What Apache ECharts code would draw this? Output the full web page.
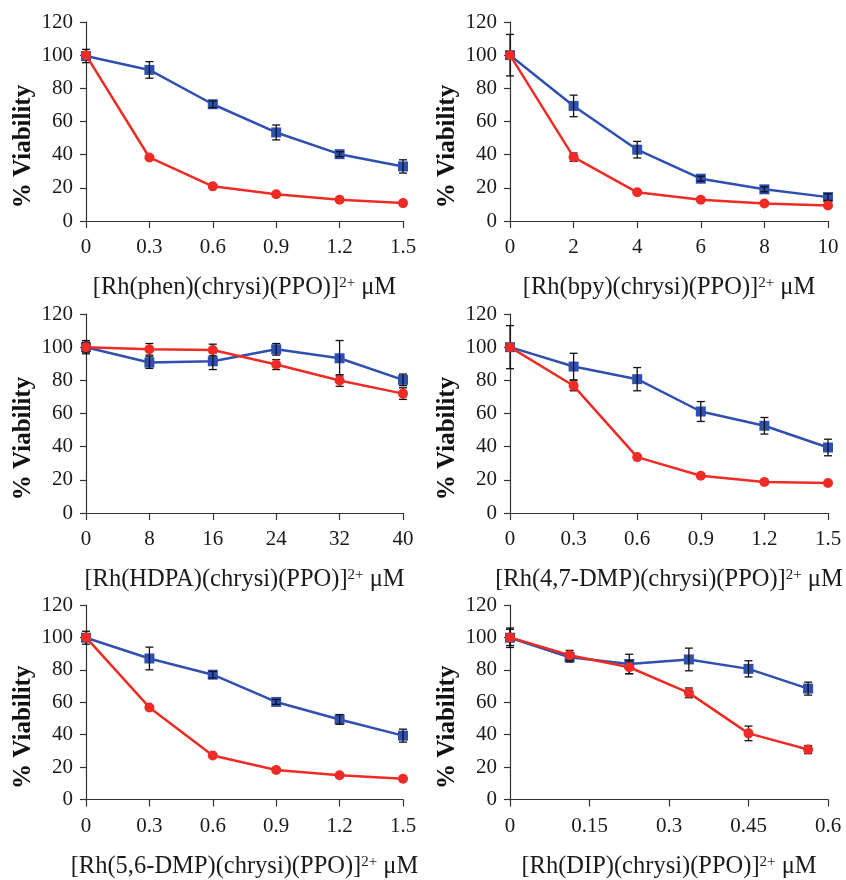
<!DOCTYPE html>
<html>
<head>
<meta charset="utf-8">
<script src="https://cdn.jsdelivr.net/npm/echarts@6/dist/echarts.min.js"></script>
<style>
html,body{margin:0;padding:0;background:#fff;}
#chart{width:846px;height:880px;}
</style>
</head>
<body>
<div id="chart"></div>
<script>
// ---- data ----
const xs1 = [0, 0.3, 0.6, 0.9, 1.2, 1.5];
const blue1 = [99.5, 91.1, 70.4, 53.4, 40.3, 32.9];
const blueErr1 = [4, 5, 2, 4.5, 1.5, 4];
const red1 = [100, 38.3, 20.9, 16.1, 12.8, 10.8];
const redErr1 = [1, 1, 1, 1, 1, 1];

const xs2 = [0, 2, 4, 6, 8, 10];
const blue2 = [100, 69.4, 43, 25.5, 19.1, 14.4];
const blueErr2 = [12.5, 6.5, 5, 1.5, 1.5, 2];
const red2 = [100, 38.5, 17.3, 12.8, 10.6, 9.4];
const redErr2 = [2, 2.5, 1, 1, 1, 1];

const xs3 = [0, 8, 16, 24, 32, 40];
const blue3 = [100, 90.7, 91.5, 98.7, 93.3, 80.3];
const blueErr3 = [4, 3.5, 5, 3.5, 10.7, 3.5];
const red3 = [100, 98.7, 98.3, 89.5, 79.9, 72];
const redErr3 = [3, 3.5, 3.5, 3, 3.5, 3.5];

const xs4 = [0, 0.3, 0.6, 0.9, 1.2, 1.5];
const blue4 = [100, 88.3, 80.7, 61.2, 52.6, 39.5];
const blueErr4 = [13, 8, 7, 6, 5, 5];
const red4 = [100, 76.7, 33.7, 22.5, 18.7, 18.1];
const redErr4 = [1, 3, 1, 1, 1, 1];

const xs5 = [0, 0.3, 0.6, 0.9, 1.2, 1.5];
const blue5 = [99.8, 87, 77, 60.2, 49.4, 39.4];
const blueErr5 = [4, 7, 2, 1.5, 3, 4];
const red5 = [100, 56.8, 27.2, 18.2, 15, 12.8];
const redErr5 = [1, 1, 1, 1, 1, 1];

const xs6 = [0, 0.1125, 0.225, 0.3375, 0.45, 0.5625];
const blue6 = [99.8, 87.8, 83.6, 86.4, 80.6, 68.4];
const blueErr6 = [6, 3, 6, 7, 5, 4];
const red6 = [100, 89, 81.6, 65.8, 40.8, 30.8];
const redErr6 = [5, 3, 4, 3, 4.5, 2.5];

const xMax = [1.5, 10, 40, 1.5, 1.5, 0.6];
const xStep = [0.3, 2, 8, 0.3, 0.3, 0.15];
const yTicks = [0, 20, 40, 60, 80, 100, 120];
const xTitles = [
  ['[Rh(phen)(chrysi)(PPO)]', '2+', ' μM'],
  ['[Rh(bpy)(chrysi)(PPO)]', '2+', ' μM'],
  ['[Rh(HDPA)(chrysi)(PPO)]', '2+', ' μM'],
  ['[Rh(4,7-DMP)(chrysi)(PPO)]', '2+', ' μM'],
  ['[Rh(5,6-DMP)(chrysi)(PPO)]', '2+', ' μM'],
  ['[Rh(DIP)(chrysi)(PPO)]', '2+', ' μM']
];
const yTitle = '% Viability';

const panels = [
  {xs: xs1, blue: blue1, be: blueErr1, red: red1, re: redErr1},
  {xs: xs2, blue: blue2, be: blueErr2, red: red2, re: redErr2},
  {xs: xs3, blue: blue3, be: blueErr3, red: red3, re: redErr3},
  {xs: xs4, blue: blue4, be: blueErr4, red: red4, re: redErr4},
  {xs: xs5, blue: blue5, be: blueErr5, red: red5, re: redErr5},
  {xs: xs6, blue: blue6, be: blueErr6, red: red6, re: redErr6}
];

// ---- layout ----
const gridPos = [
  {left: 86, top: 22, width: 317, height: 199},
  {left: 510, top: 22, width: 318, height: 199},
  {left: 86, top: 314, width: 317, height: 199},
  {left: 510, top: 314, width: 318, height: 199},
  {left: 86, top: 605, width: 317, height: 200},
  {left: 510, top: 605, width: 318, height: 200}
];

const BLUE = '#2f50b0';
const RED = '#ee2b25';
const FONT = '"Liberation Serif", "Times New Roman", serif';
const AXC = '#333';

function fmt(v) {
  return String(+v.toFixed(4));
}

const grid = [], xAxis = [], yAxis = [], series = [];

function errSeries(i, xs, ys, es, z) {
  return {
    type: 'custom', xAxisIndex: i, yAxisIndex: i, z: z, silent: true,
    data: xs.map((x, k) => [x, ys[k], es[k]]),
    renderItem: function (params, api) {
      const x = api.value(0), y = api.value(1), e = api.value(2);
      const top = api.coord([x, y + e]);
      const bot = api.coord([x, y - e]);
      const hw = 4;
      const st = {stroke: '#111', lineWidth: 1.3};
      return {
        type: 'group', children: [
          {type: 'line', shape: {x1: top[0], y1: top[1], x2: bot[0], y2: bot[1]}, style: st},
          {type: 'line', shape: {x1: top[0] - hw, y1: top[1], x2: top[0] + hw, y2: top[1]}, style: st},
          {type: 'line', shape: {x1: bot[0] - hw, y1: bot[1], x2: bot[0] + hw, y2: bot[1]}, style: st}
        ]
      };
    }
  };
}

panels.forEach((p, i) => {
  grid.push(Object.assign({containLabel: false}, gridPos[i]));
  const t = xTitles[i];
  xAxis.push({
    type: 'value', gridIndex: i, min: 0, max: xMax[i], interval: xStep[i],
    splitLine: {show: false},
    axisLine: {show: true, onZero: false, lineStyle: {color: AXC, width: 1.2}},
    axisTick: {show: true, inside: false, length: 7, lineStyle: {color: AXC, width: 1.2}},
    axisLabel: {margin: 16, color: '#1a1a1a', fontFamily: FONT, fontSize: 21,
      formatter: v => fmt(v), showMinLabel: true, showMaxLabel: true},
    name: '{a|' + t[0] + '}{s|' + t[1] + '}{a|' + t[2] + '}',
    nameLocation: 'middle', nameGap: 53,
    nameTextStyle: {
      rich: {
        a: {fontFamily: FONT, fontSize: 24.5, color: '#1a1a1a', lineHeight: 28},
        s: {fontFamily: FONT, fontSize: 15, color: '#1a1a1a', lineHeight: 28, padding: [0, 0, 9, 0]}
      }
    }
  });
  yAxis.push({
    type: 'value', gridIndex: i, min: yTicks[0], max: yTicks[yTicks.length - 1], interval: yTicks[1] - yTicks[0],
    splitLine: {show: false},
    axisLine: {show: true, lineStyle: {color: AXC, width: 1.2}},
    axisTick: {show: true, inside: false, length: 6, lineStyle: {color: AXC, width: 1.2}},
    axisLabel: {margin: 13, color: '#1a1a1a', fontFamily: FONT, fontSize: 21},
    name: yTitle, nameLocation: 'middle', nameGap: 50, nameRotate: 90,
    nameTextStyle: {fontFamily: FONT, fontSize: 25, fontWeight: 'bold', color: '#111', padding: [0, 50, 0, 0]}
  });
  series.push({
    type: 'line', xAxisIndex: i, yAxisIndex: i, z: 2,
    data: p.xs.map((x, k) => [x, p.blue[k]]),
    symbol: 'rect', symbolSize: 10, lineStyle: {color: BLUE, width: 2.5},
    itemStyle: {color: BLUE}, silent: true
  });
  series.push(errSeries(i, p.xs, p.blue, p.be, 3));
  series.push(errSeries(i, p.xs, p.red, p.re, 4));
  series.push({
    type: 'line', xAxisIndex: i, yAxisIndex: i, z: 5,
    data: p.xs.map((x, k) => [x, p.red[k]]),
    symbol: 'circle', symbolSize: 10, lineStyle: {color: RED, width: 2.5},
    itemStyle: {color: RED}, silent: true
  });
});

const chart = echarts.init(document.getElementById('chart'), null, {renderer: 'canvas'});
chart.setOption({
  backgroundColor: '#fff',
  animation: false,
  grid, xAxis, yAxis, series
});
</script>
</body>
</html>
